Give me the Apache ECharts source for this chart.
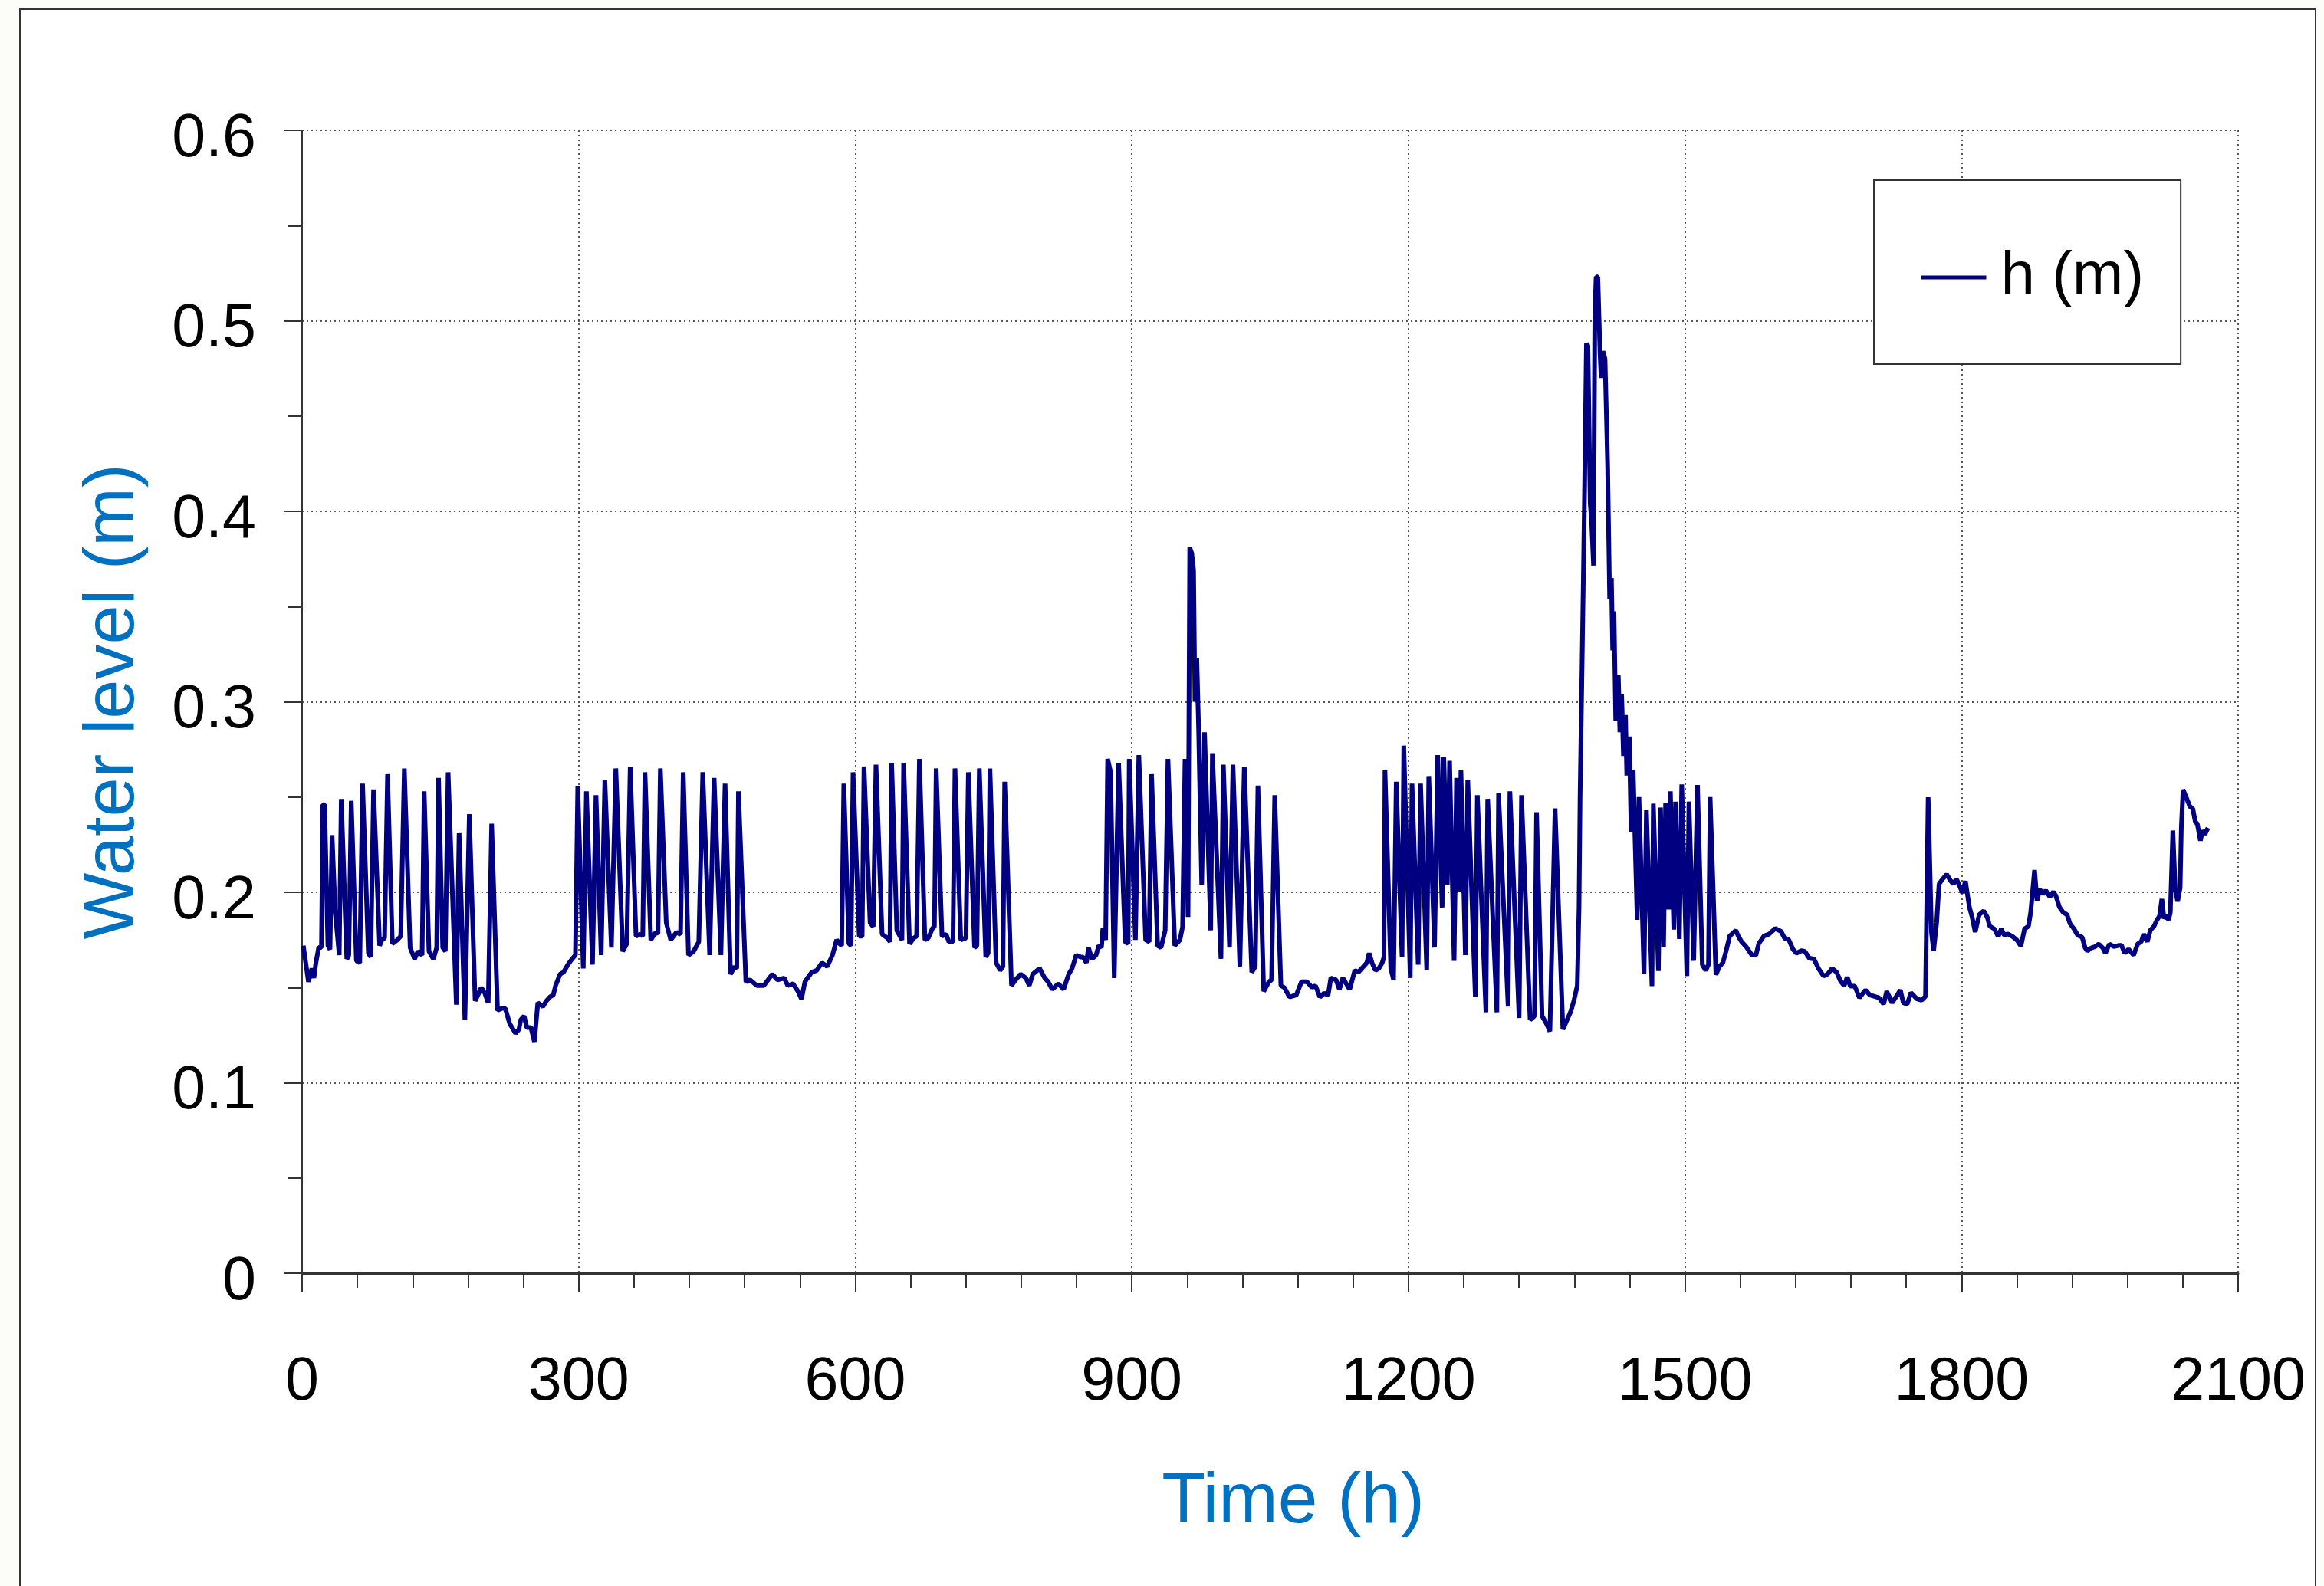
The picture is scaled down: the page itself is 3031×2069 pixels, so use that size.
<!DOCTYPE html>
<html>
<head>
<meta charset="utf-8">
<script src="https://cdn.jsdelivr.net/npm/echarts/dist/echarts.min.js"></script>
<style>
html,body{margin:0;padding:0;background:#fcfcf9;}
#chart{width:3031px;height:2069px;}
</style>
</head>
<body>
<div id="chart"></div>
<script>
// Time (h) of each read vertex
var timeH = [
1.3,6.9,10.6,12.8,15,18,21,22.5,24.4,28,30.3,32.5,35.9,40.3,42.5,48.5,50.7,53.3,58.9,62.6,65.6,71.9,74.5,77.5,84.1,86.7,89.5,92.7,97.9,103.4,107,110.9,117.2,122,125.7,130.2,132.4,137.6,142.4,146,148,152.5,155.4,158.4,167.3,170.3,176.6,181.4,187.7,190.7,194.4,198.2,201.9,205.6,212,216.7,220.4,225.2,231.5,235.2,237.1,240.8,243.8,248.2,252,255.7,261.2,265,268.7,272.4,275,279.8,283.5,288.3,292.8,296.5,
299,305,308.4,315,318.8,324.4,328.4,335.5,340.3,347.8,352.2,355.9,362.2,367.1,369.5,371.9,378.2,383.8,386,388.6,395,399.8,406.1,410.5,413.4,419.1,424.7,430.3,434.6,442.1,446.9,454.3,458.8,464.7,469.2,471.5,473.3,481.4,485.9,493.3,500.8,510,515.6,523,526.8,532.4,537.9,541.7,545.4,552.8,558.3,563.9,569.5,
575.3,579.8,583,585.3,587.6,593.1,595.5,597.6,604.3,607.5,609.5,616.1,619.5,622.5,629.1,634.7,637.7,639.5,645.1,650.7,652.5,658.9,663.6,666.6,669.6,675.6,679.3,683.7,685.9,687.8,694.1,698.6,701.5,706,708.2,714.5,720.1,722.7,729.4,732,734.6,741.6,744.2,746.1,752.8,757.2,760.2,762.1,769.5,774,779.5,785,788.8,792.5,800,805.5,809.2,813.7,820.4,826,831.5,835.2,839.7,844.5,847.1,850.8,853,856.7,861.2,864.2,867.1,868.6,871.6,873.8,877,880.9,885.7,892.8,896,897.2,903.9,907.6,915,918.8,921.4,928,931.7,936.2,939.2,946.6,952.2,955.1,957.7,961,962.8,965,967,968.5,970.5,972.5,975.8,978.9,985.6,987.4,996.7,999.3,1006,1009.7,1017.2,1022,1030.1,1033.9,1036.8,1043.1,1048.7,1051.6,1055,1061.7,1065.4,1071,1078.4,1084,
1089.9,1095.5,1099.2,1104,1108.5,1112.9,1115.9,1121.5,1125.2,1128.9,1132.6,1136.3,1141.9,1145.6,1151.2,1154.9,1157.5,1160.5,1164.2,1167.9,1171.6,1173.5,1174.6,1180.9,1183.9,1186.8,1193.1,1195,1202,1203.9,1210.6,1213.2,1219.9,1222.1,1228.4,1231.8,1236.6,1238.4,1242.2,1244.7,1249.6,1252.2,1255.1,1257,1261.8,1264.4,1272.6,1274.8,1284.1,1286,1296,1297.8,1308.2,1310.1,1320.1,1322.7,1332,1336.8,1339,1345,1349.8,1353.5,1359.1,1367.6,1372.1,1375.8,1379.5,1383.2,1385.1,1386.2,1389.7,1391.1,1393.1,1394.7,1397.2,1398.6,1400.8,1402.2,1403.6,1405.5,1407.8,1409.1,1411,1413.3,1416.1,1418.3,1420.2,1421.6,1423,1424.9,1427.7,1429.4,1431.3,1433.3,1435.5,1436.9,1439.6,1441.6,1443.8,1448.2,1450.1,1455.6,1458.2,1464.2,1465.7,1471.2,1473.5,1476.8,1479,1482.4,1484.2,1487.9,1489.8,1493.9,1496.5,1502.1,1504.3,1509.5,1513.6,1518.8,1522.5,1525.5,1527.3,1533.6,1537.3,1541.1,1544.8,1548.5,1555.2,1557.8,1561.5,1567,1572.6,1577,1580,1585.6,1591.2,1597.9,1604.2,1607.9,1612.7,1617.2,1620.9,1626.7,
1630,1634.9,1639.9,1644.8,1650.4,1654.7,1659.6,1664.5,1668.8,1672.7,1676,1679.3,1684.2,1689.2,1695.8,1700.7,1705.6,1710.5,1715.5,1718.8,1724.7,1730.3,1733.6,1736.8,1741.1,1745.1,1751.6,1756.6,1760.9,1763.8,1767.4,1769.7,1773,1775.6,1779.6,1783.9,1787.8,1791.1,1794.4,1797.7,1801,1804.2,1808.5,1811.5,1814.8,1819.1,1824,1827.9,1830.6,1835.5,1839.8,1843.1,1846.3,1850.3,1855.2,1860.2,1864.4,1868.4,1872.6,1875,1879.2,1881.9,1884.8,1888.1,1891.4,1895.7,1899.6,1902.2,1906.2,1910.1,1914.4,1917.7,1922,1925.9,1930.8,1934.1,1936.4,1940.7,1945,1948.9,1953.2,1956.1,1960.4,1965.4,1970.3,1973.6,1976.9,1981.1,1986.7,1991,1995,1997.6,2001.5,2004.8,2008.8,2012,2014.7,2017.3,2019.6,2022.2,2024.6,2026.5,2029.2,2031.8,2034.4,2037.1,2038.4,2040.3,2041.6,2044.3,2047.6,2050.9,2053.5,2055.8,2059.1,2061.4,2064,2067.3
];
// Water level h (m) at each vertex
var levelM = [
0.172,0.153,0.160,0.155,0.163,0.171,0.171,0.246,0.246,0.172,0.170,0.230,0.190,0.167,0.249,0.165,0.167,0.248,0.164,0.163,0.257,0.168,0.166,0.254,0.172,0.175,0.176,0.262,0.173,0.175,0.177,0.265,0.171,0.165,0.169,0.167,0.253,0.169,0.165,0.171,0.260,0.171,0.169,0.263,0.141,0.231,0.133,0.241,0.143,0.146,0.150,0.147,0.142,0.236,0.138,0.139,0.139,0.131,0.126,0.128,0.133,0.135,0.129,0.129,0.1215,0.142,0.140,0.143,0.145,0.146,0.151,0.157,0.158,0.162,0.165,0.167,
0.2555,0.160,0.253,0.162,0.251,0.167,0.259,0.171,0.265,0.169,0.173,0.266,0.177,0.178,0.177,0.263,0.175,0.179,0.178,0.265,0.184,0.175,0.179,0.178,0.263,0.167,0.169,0.174,0.263,0.167,0.260,0.167,0.257,0.157,0.161,0.160,0.253,0.153,0.154,0.151,0.151,0.157,0.154,0.155,0.151,0.152,0.148,0.144,0.153,0.158,0.159,0.163,0.161,
0.167,0.175,0.173,0.172,0.257,0.173,0.172,0.263,0.177,0.177,0.266,0.184,0.182,0.267,0.178,0.176,0.174,0.268,0.180,0.175,0.268,0.173,0.176,0.177,0.270,0.175,0.176,0.181,0.182,0.265,0.177,0.178,0.174,0.174,0.265,0.175,0.176,0.263,0.171,0.172,0.265,0.166,0.168,0.265,0.163,0.159,0.161,0.258,0.151,0.154,0.157,0.155,0.151,0.157,0.160,0.155,0.153,0.149,0.152,0.149,0.157,0.160,0.167,0.166,0.166,0.163,0.171,0.165,0.167,0.172,0.171,0.181,0.175,0.270,0.263,0.155,0.268,0.174,0.173,0.270,0.175,0.272,0.175,0.174,0.262,0.172,0.171,0.180,0.270,0.172,0.175,0.182,0.270,0.187,0.381,0.378,0.369,0.300,0.323,0.285,0.204,0.284,0.180,0.273,0.165,0.267,0.171,0.267,0.161,0.266,0.158,0.161,0.256,0.148,0.153,0.154,0.251,0.151,0.150,0.145,0.146,0.153,
0.153,0.150,0.151,0.145,0.147,0.146,0.155,0.154,0.149,0.155,0.152,0.149,0.159,0.158,0.161,0.163,0.168,0.163,0.159,0.160,0.163,0.166,0.264,0.160,0.154,0.258,0.166,0.277,0.155,0.257,0.162,0.257,0.159,0.261,0.171,0.272,0.192,0.271,0.204,0.269,0.164,0.260,0.200,0.264,0.167,0.259,0.145,0.251,0.137,0.249,0.137,0.252,0.140,0.253,0.134,0.251,0.133,0.135,0.242,0.135,0.131,0.127,0.244,0.128,0.133,0.137,0.143,0.151,0.192,0.249,0.362,0.411,0.488,0.487,0.404,0.396,0.3715,0.503,0.523,0.523,0.484,0.470,0.484,0.480,0.4245,0.354,0.365,0.327,0.3475,0.290,0.314,0.284,0.304,0.2716,0.293,0.2613,0.2818,0.2315,0.2644,0.1855,0.250,0.157,0.243,0.1507,0.2465,0.1587,0.2445,0.1714,0.2468,0.191,0.253,0.1804,0.2476,0.1755,0.2566,0.156,0.2476,0.164,0.2563,0.162,0.159,0.162,0.250,0.1567,0.161,0.163,0.1695,0.177,0.180,0.177,0.174,0.171,0.167,0.167,0.173,0.177,0.178,0.181,0.1795,0.176,0.175,0.170,0.168,0.1694,
0.169,0.1654,0.165,0.160,0.156,0.157,0.160,0.158,0.1533,0.151,0.1554,0.1507,0.1507,0.1446,0.1487,0.146,0.1453,0.1446,0.1413,0.148,0.142,0.146,0.1487,0.142,0.1413,0.1473,0.144,0.1433,0.1453,0.2499,0.1788,0.1692,0.184,0.2043,0.207,0.2094,0.2063,0.2043,0.207,0.2036,0.1996,0.2059,0.1922,0.1869,0.1791,0.1882,0.1902,0.1869,0.1822,0.1808,0.1768,0.1808,0.1775,0.1781,0.1768,0.1748,0.1718,0.1808,0.1822,0.1895,0.2117,0.1956,0.2016,0.199,0.201,0.1976,0.2003,0.1983,0.1922,0.1895,0.1882,0.1835,0.1808,0.1775,0.1764,0.1708,0.1692,0.1708,0.1715,0.1728,0.1708,0.1681,0.1728,0.1715,0.1721,0.1721,0.1681,0.1701,0.167,0.1728,0.1741,0.1781,0.1741,0.1801,0.1822,0.1855,0.1875,0.1965,0.1862,0.1882,0.1855,0.1895,0.2324,0.2016,0.1952,0.2023,0.2338,0.2539,0.2532,0.2491,0.2451,0.2438,0.2371,0.2358,0.2271,0.2324,0.2304,0.2338
];
var seriesName = 'h (m)';
var xTicks = [0, 300, 600, 900, 1200, 1500, 1800, 2100];
var yTicks = [0, 0.1, 0.2, 0.3, 0.4, 0.5, 0.6];

var data = timeH.map(function (t, i) { return [t, levelM[i]]; });
var FONT = '"Liberation Sans", Arial, sans-serif';

var chart = echarts.init(document.getElementById('chart'), null, {renderer: 'canvas'});
chart.setOption({
  backgroundColor: '#fcfcf9',
  animation: false,
  graphic: [{
    type: 'rect', silent: true, z: -100,
    shape: {x: 26, y: 12, width: 2994, height: 2200},
    style: {fill: '#ffffff', stroke: '#333333', lineWidth: 2}
  }],
  grid: {left: 394, right: 112, top: 170, bottom: 408, containLabel: false},
  legend: {
    show: true,
    data: [seriesName],
    left: 2444, top: 235,
    padding: [87, 48, 73, 59],
    itemWidth: 85, itemHeight: 6,
    itemGap: 0,
    borderColor: '#333333', borderWidth: 2,
    backgroundColor: '#ffffff',
    itemStyle: {opacity: 0},
    lineStyle: {color: '#000080', width: 5},
    textStyle: {fontSize: 80, color: '#000000', fontFamily: FONT, padding: [0, 0, 0, 14]}
  },
  xAxis: {
    type: 'value', min: xTicks[0], max: xTicks[xTicks.length - 1], interval: 300,
    name: 'Time (h)', nameLocation: 'middle', nameGap: 253,
    nameTextStyle: {fontSize: 93, color: '#0070C0', fontFamily: FONT, padding: [0, 0, 0, 60]},
    axisLine: {show: true, lineStyle: {color: '#333333', width: 3}},
    axisTick: {show: true, inside: false, length: 25, lineStyle: {color: '#333333', width: 2}},
    minorTick: {show: true, splitNumber: 5, length: 19, lineStyle: {color: '#333333', width: 2}},
    splitLine: {show: true, lineStyle: {color: '#555555', width: 2, type: [2, 4]}},
    axisLabel: {fontSize: 79, margin: 104, color: '#000000', fontFamily: FONT,
      formatter: function (v) { return String(v); }}
  },
  yAxis: {
    type: 'value', min: yTicks[0], max: yTicks[yTicks.length - 1], interval: 0.1,
    name: 'Water level (m)', nameLocation: 'middle', nameGap: 199, nameRotate: 90,
    nameTextStyle: {fontSize: 92, color: '#0070C0', fontFamily: FONT},
    axisLine: {show: true, lineStyle: {color: '#333333', width: 2}},
    axisTick: {show: true, inside: false, length: 24, lineStyle: {color: '#333333', width: 2}},
    minorTick: {show: true, splitNumber: 2, length: 18, lineStyle: {color: '#333333', width: 2}},
    splitLine: {show: true, lineStyle: {color: '#555555', width: 2, type: [2, 4]}},
    axisLabel: {margin: 60, color: '#000000', fontFamily: FONT, fontSize: 79,
      formatter: function (v) { return '{a|' + String(Math.round(v * 10) / 10) + '}'; },
      rich: {a: {fontSize: 79, fontFamily: FONT, color: '#000000', height: 79, lineHeight: 79, padding: [24, 0, 0, 0]}}}
  },
  series: [{
    name: seriesName, type: 'line', data: data,
    symbol: 'none', showSymbol: false,
    lineStyle: {color: '#000080', width: 6},
    itemStyle: {color: '#000080'}
  }]
});
</script>
</body>
</html>
